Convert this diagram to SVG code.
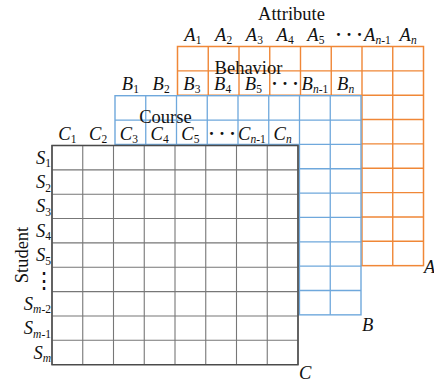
<svg xmlns="http://www.w3.org/2000/svg" width="434" height="382" viewBox="0 0 434 382">
<style>
  text { font-family: "Liberation Serif", "Times New Roman", serif; fill: #111; }
  .lbl { font-size: 18.5px; font-style: italic; text-anchor: middle; }
  .sub { font-size: 11.5px; }
  .ro { font-style: normal; }
  .word { font-size: 18.5px; text-anchor: middle; }
  .dots { font-size: 18px; font-weight: bold; text-anchor: middle; }
  .vdots { font-family: "DejaVu Serif", serif; font-size: 22px; text-anchor: middle; }
  .corner { font-size: 18.5px; font-style: italic; }
  .og { fill: #fff; stroke: #F08737; stroke-width: 1.5; }
  .bg { fill: #fff; stroke: #6FA8DC; stroke-width: 1.4; }
  .kg { fill: #fff; stroke: #5a5a5a; stroke-width: 1.3; }
  .ol { fill: none; stroke: #F08737; stroke-width: 1.4; }
  .bl { fill: none; stroke: #6FA8DC; stroke-width: 1.3; }
  .kl { fill: none; stroke: #777; stroke-width: 1.1; }
</style>

<g id="attribute-matrix">
  <rect class="og" x="177.5" y="46.5" width="246" height="219.15"/>
  <path class="ol" d="M208.25 46.5V265.65M239 46.5V265.65M269.75 46.5V265.65M300.5 46.5V265.65M331.25 46.5V265.65M362 46.5V265.65M392.75 46.5V265.65
    M177.5 70.85H423.5M177.5 95.2H423.5M177.5 119.55H423.5M177.5 143.9H423.5M177.5 168.25H423.5M177.5 192.6H423.5M177.5 216.95H423.5M177.5 241.3H423.5"/>
  <text class="word" x="291.5" y="20">Attribute</text>
  <text class="lbl" x="192.9" y="40.5">A<tspan class="sub ro" dy="3.5">1</tspan></text>
  <text class="lbl" x="223.6" y="40.5">A<tspan class="sub ro" dy="3.5">2</tspan></text>
  <text class="lbl" x="254.4" y="40.5">A<tspan class="sub ro" dy="3.5">3</tspan></text>
  <text class="lbl" x="285.1" y="40.5">A<tspan class="sub ro" dy="3.5">4</tspan></text>
  <text class="lbl" x="315.9" y="40.5">A<tspan class="sub ro" dy="3.5">5</tspan></text>
  <text class="dots" x="349" y="40.5">· · ·</text>
  <text class="lbl" x="377.4" y="40.5">A<tspan class="sub" dy="3.5">n</tspan><tspan class="sub ro">-1</tspan></text>
  <text class="lbl" x="408.1" y="40.5">A<tspan class="sub" dy="3.5">n</tspan></text>
  <text class="corner" x="424" y="273">A</text>
</g>

<g id="behavior-matrix">
  <text class="word" x="248.5" y="74">Behavior</text>
  <rect class="bg" x="115" y="95.7" width="246" height="219.15"/>
  <path class="bl" d="M145.75 95.7V314.85M176.5 95.7V314.85M207.25 95.7V314.85M238 95.7V314.85M268.75 95.7V314.85M299.5 95.7V314.85M330.25 95.7V314.85
    M115 120.05H361M115 144.4H361M115 168.75H361M115 193.1H361M115 217.45H361M115 241.8H361M115 266.15H361M115 290.5H361"/>
  <text class="lbl" x="130.4" y="89.5">B<tspan class="sub ro" dy="3.5">1</tspan></text>
  <text class="lbl" x="161.1" y="89.5">B<tspan class="sub ro" dy="3.5">2</tspan></text>
  <text class="lbl" x="191.9" y="89.5">B<tspan class="sub ro" dy="3.5">3</tspan></text>
  <text class="lbl" x="222.6" y="89.5">B<tspan class="sub ro" dy="3.5">4</tspan></text>
  <text class="lbl" x="253.4" y="89.5">B<tspan class="sub ro" dy="3.5">5</tspan></text>
  <text class="dots" x="285" y="89.5">· · ·</text>
  <text class="lbl" x="314.9" y="89.5">B<tspan class="sub" dy="3.5">n</tspan><tspan class="sub ro">-1</tspan></text>
  <text class="lbl" x="345.6" y="89.5">B<tspan class="sub" dy="3.5">n</tspan></text>
  <text class="corner" x="362" y="331">B</text>
</g>

<g id="course-matrix">
  <text class="word" x="165.5" y="123">Course</text>
  <rect class="kg" x="52" y="145.5" width="246" height="219.15"/>
  <path class="kl" d="M82.75 145.5V364.65M113.5 145.5V364.65M144.25 145.5V364.65M175 145.5V364.65M205.75 145.5V364.65M236.5 145.5V364.65M267.25 145.5V364.65
    M52 169.85H298M52 194.2H298M52 218.55H298M52 242.9H298M52 267.25H298M52 291.6H298M52 315.95H298M52 340.3H298"/>
  <rect x="52" y="145.5" width="246" height="219.15" fill="none" stroke="#4a4a4a" stroke-width="1.3"/>
  <text class="lbl" x="67.4" y="139.5">C<tspan class="sub ro" dy="3.5">1</tspan></text>
  <text class="lbl" x="98.1" y="139.5">C<tspan class="sub ro" dy="3.5">2</tspan></text>
  <text class="lbl" x="128.9" y="139.5">C<tspan class="sub ro" dy="3.5">3</tspan></text>
  <text class="lbl" x="159.6" y="139.5">C<tspan class="sub ro" dy="3.5">4</tspan></text>
  <text class="lbl" x="190.4" y="139.5">C<tspan class="sub ro" dy="3.5">5</tspan></text>
  <text class="dots" x="222" y="139.5">· · ·</text>
  <text class="lbl" x="251.9" y="139.5">C<tspan class="sub" dy="3.5">n</tspan><tspan class="sub ro">-1</tspan></text>
  <text class="lbl" x="282.6" y="139.5">C<tspan class="sub" dy="3.5">n</tspan></text>
  <text class="corner" x="299" y="378.5">C</text>
</g>

<g id="student-labels">
  <text class="word" transform="translate(27.5 255) rotate(-90)">Student</text>
  <text class="lbl" style="text-anchor:end" x="51" y="163.5">S<tspan class="sub ro" dy="3.5">1</tspan></text>
  <text class="lbl" style="text-anchor:end" x="51" y="188">S<tspan class="sub ro" dy="3.5">2</tspan></text>
  <text class="lbl" style="text-anchor:end" x="51" y="212.4">S<tspan class="sub ro" dy="3.5">3</tspan></text>
  <text class="lbl" style="text-anchor:end" x="51" y="236.7">S<tspan class="sub ro" dy="3.5">4</tspan></text>
  <text class="lbl" style="text-anchor:end" x="51" y="261.1">S<tspan class="sub ro" dy="3.5">5</tspan></text>
  <text class="vdots" x="43.5" y="288">⋮</text>
  <text class="lbl" style="text-anchor:end" x="51" y="309.8">S<tspan class="sub" dy="3.5">m</tspan><tspan class="sub ro">-2</tspan></text>
  <text class="lbl" style="text-anchor:end" x="51" y="334.1">S<tspan class="sub" dy="3.5">m</tspan><tspan class="sub ro">-1</tspan></text>
  <text class="lbl" style="text-anchor:end" x="51" y="358.5">S<tspan class="sub" dy="3.5">m</tspan></text>
</g>

<g id="connectors"></g>
</svg>
